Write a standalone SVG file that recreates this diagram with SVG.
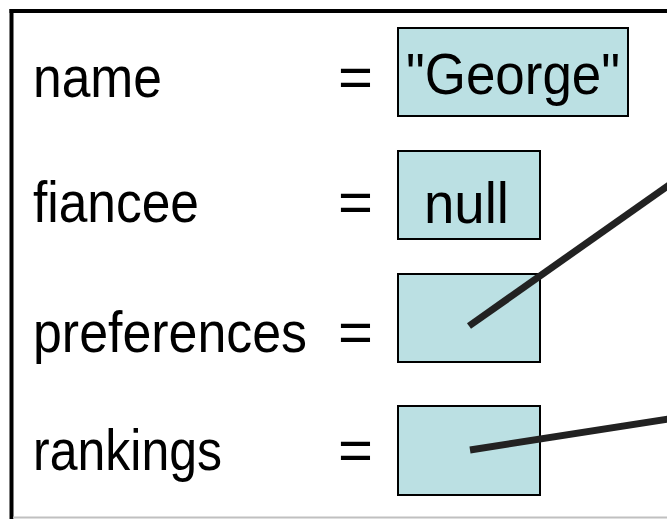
<svg xmlns="http://www.w3.org/2000/svg" width="667" height="519" viewBox="0 0 667 519">
<style>
.t{font-family:"Liberation Sans","DejaVu Sans",sans-serif;font-size:57px;fill:#000}
.box{fill:#BBE0E3;stroke:#000;stroke-width:2}
.ptr{stroke:#222;stroke-width:7;stroke-linecap:butt;fill:none}
</style>
<rect x="0" y="0" width="667" height="519" fill="#fff"/>
<g id="frame">
<line x1="9.5" y1="11" x2="667" y2="11" stroke="#000" stroke-width="4"/>
<line x1="11.5" y1="9" x2="11.5" y2="519" stroke="#000" stroke-width="4"/>
<line x1="13" y1="517.5" x2="667" y2="517.5" stroke="#c0c0c0" stroke-width="2"/>
</g>
<g id="name">
<text class="t" x="33" y="97" textLength="129" lengthAdjust="spacingAndGlyphs">name</text>
<text class="t" x="338" y="97" textLength="35" lengthAdjust="spacingAndGlyphs">=</text>
<rect class="box" x="398" y="28" width="230" height="88"/>
<text class="t" x="406" y="94" textLength="214" lengthAdjust="spacingAndGlyphs">"George"</text>
</g>
<g id="fiancee">
<text class="t" x="33" y="222" textLength="166" lengthAdjust="spacingAndGlyphs">fiancee</text>
<text class="t" x="338" y="222" textLength="35" lengthAdjust="spacingAndGlyphs">=</text>
<rect class="box" x="398" y="151" width="142" height="88"/>
<text class="t" x="424" y="223" textLength="85" lengthAdjust="spacingAndGlyphs">null</text>
</g>
<g id="preferences">
<text class="t" x="33" y="352" textLength="274" lengthAdjust="spacingAndGlyphs">preferences</text>
<text class="t" x="338" y="352" textLength="35" lengthAdjust="spacingAndGlyphs">=</text>
<rect class="box" x="398" y="274" width="142" height="88"/>
</g>
<g id="rankings">
<text class="t" x="33" y="470" textLength="189" lengthAdjust="spacingAndGlyphs">rankings</text>
<text class="t" x="338" y="470" textLength="35" lengthAdjust="spacingAndGlyphs">=</text>
<rect class="box" x="398" y="406" width="142" height="89"/>
</g>
<g id="connectors">
<line class="ptr" x1="469" y1="326" x2="669" y2="185"/>
<line class="ptr" x1="470" y1="450" x2="669" y2="419"/>
</g>
</svg>
